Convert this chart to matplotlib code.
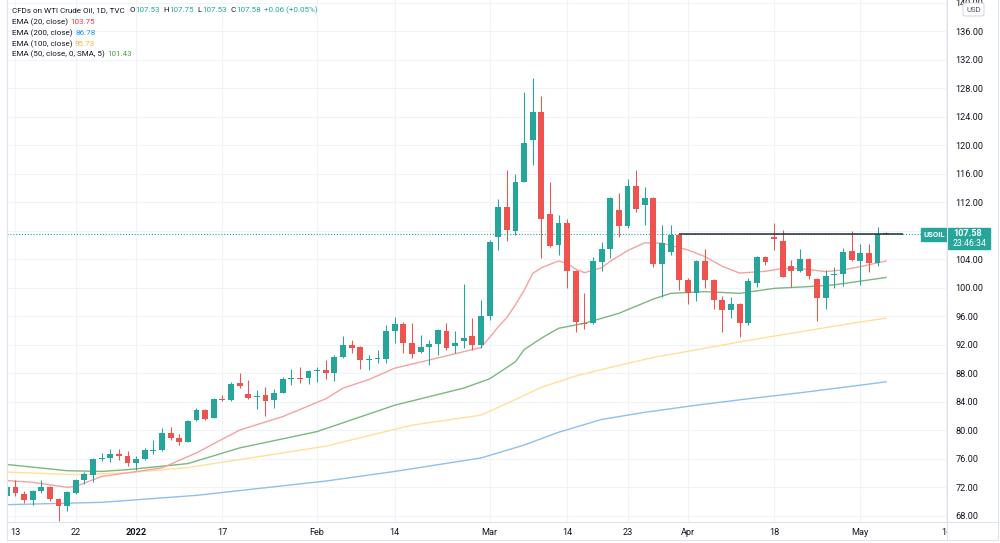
import numpy as np
import pandas as pd
import matplotlib
matplotlib.use("Agg")
from matplotlib import pyplot as plt
from matplotlib import ticker
from matplotlib.patches import Rectangle, FancyBboxPatch
from matplotlib.lines import Line2D

plt.rcParams['font.family'] = ['Roboto', 'DejaVu Sans']

# trading days on the chart (CFD calendar: no bar on Dec 24 and Good Friday)
days = pd.bdate_range("2021-12-09", "2022-05-20")
days = days.drop(pd.to_datetime(["2021-12-24", "2022-04-15"]))

# daily candles, Dec 10 2021 -> May 5 2022
candle_start = "2021-12-10"
opens = [70.71, 71.97, 71.08, 70.24, 71.40, 71.97, 70.34, 69.31, 71.18, 72.95,
         73.70, 75.94, 76.04, 76.60, 76.40, 75.40, 75.99, 77.10, 77.20, 79.60,
         78.90, 78.40, 81.36, 82.77, 81.74, 84.40, 84.26, 86.56, 85.10, 84.60,
         84.88, 84.22, 85.25, 87.20, 87.36, 87.30, 88.30, 88.40, 87.96, 90.20,
         92.00, 91.65, 89.83, 89.97, 90.00, 93.90, 94.83, 92.26, 90.95, 91.70,
         92.07, 93.94, 91.80, 92.49, 93.28, 91.93, 96.08, 107.10, 111.30, 107.90,
         114.90, 120.76, 124.60, 110.40, 105.94, 109.07, 102.30, 95.06, 95.06, 103.65,
         105.40, 110.86, 108.60, 114.27, 111.56, 112.60, 103.30, 105.00, 107.36, 101.14,
         99.27, 103.70, 101.14, 98.33, 96.93, 97.68, 94.97, 100.70, 104.28, 107.10,
         106.60, 103.06, 102.40, 104.05, 101.28, 98.57, 101.75, 101.98, 105.10, 103.76,
         104.80, 103.50, 107.53]
highs = [72.20, 72.95, 71.40, 71.64, 73.04, 72.20, 70.40, 71.40, 73.10, 74.07,
         76.04, 76.80, 77.35, 77.40, 77.10, 76.30, 77.50, 78.65, 80.30, 80.50,
         79.50, 81.46, 83.14, 82.95, 84.50, 84.96, 86.70, 87.96, 87.10, 85.70,
         86.10, 85.80, 87.50, 88.60, 88.90, 88.40, 88.90, 89.80, 90.50, 93.20,
         92.70, 91.80, 90.60, 91.20, 94.70, 95.90, 95.20, 95.07, 93.40, 92.70,
         94.13, 95.07, 93.90, 100.55, 95.70, 98.30, 106.70, 112.40, 116.55, 116.00,
         127.50, 129.40, 126.90, 114.80, 110.20, 109.70, 102.50, 99.26, 104.30, 106.36,
         112.80, 113.30, 115.30, 116.56, 114.10, 112.70, 108.76, 108.76, 107.50, 101.30,
         103.85, 105.50, 101.20, 98.80, 98.70, 97.80, 101.30, 104.47, 104.40, 109.10,
         108.10, 103.90, 105.40, 104.10, 101.40, 102.55, 102.90, 105.60, 107.90, 106.20,
         106.20, 108.50, 107.75]
lows = [70.50, 70.71, 69.70, 69.50, 71.18, 70.00, 67.20, 68.70, 71.00, 72.40,
        72.68, 75.60, 75.50, 75.80, 75.00, 74.40, 75.80, 76.65, 77.00, 78.56,
        77.90, 78.30, 81.27, 81.46, 81.64, 84.03, 84.10, 85.86, 84.30, 82.90,
        82.00, 83.15, 85.16, 86.40, 86.60, 86.50, 86.75, 87.20, 86.90, 90.16,
        90.86, 88.60, 88.50, 89.36, 89.36, 92.20, 90.77, 90.07, 90.86, 89.20,
        90.50, 91.30, 90.77, 91.55, 91.30, 91.60, 95.50, 105.30, 106.50, 107.40,
        114.90, 117.25, 104.10, 105.70, 104.60, 99.96, 93.75, 94.20, 94.96, 102.40,
        104.20, 107.10, 108.40, 110.60, 108.76, 102.90, 98.70, 104.60, 99.64, 97.77,
        98.15, 99.96, 97.07, 93.80, 95.70, 93.10, 94.80, 100.14, 103.20, 105.30,
        101.46, 100.05, 102.26, 101.18, 95.30, 97.07, 99.90, 100.20, 103.75, 100.35,
        102.20, 103.00, 107.53]
closes = [71.97, 71.18, 70.24, 71.50, 72.00, 70.34, 69.31, 71.27, 73.00, 73.80,
          75.94, 76.13, 76.60, 76.40, 75.40, 75.94, 77.16, 77.26, 79.60, 78.84,
          78.40, 81.27, 82.77, 81.60, 84.36, 84.26, 86.50, 86.19, 84.46, 84.83,
          84.08, 85.16, 87.20, 87.36, 87.20, 88.30, 88.50, 88.06, 90.25, 92.00,
          91.56, 89.78, 90.00, 90.07, 93.90, 94.83, 92.17, 90.67, 91.70, 92.07,
          94.04, 91.56, 92.26, 93.00, 91.93, 96.00, 106.36, 111.30, 108.05, 114.90,
          120.30, 124.70, 109.60, 105.80, 109.07, 102.30, 95.15, 94.90, 103.70, 105.40,
          112.64, 108.60, 114.27, 111.10, 112.60, 103.30, 106.30, 107.36, 101.14, 99.27,
          103.70, 101.05, 98.24, 96.90, 97.68, 94.97, 100.94, 104.28, 103.67, 106.80,
          101.55, 102.40, 104.00, 101.70, 98.57, 101.60, 101.98, 105.00, 103.94, 104.80,
          103.50, 107.50, 107.58]

# moving averages
ema20_dates = ["2021-12-09", "2021-12-15", "2021-12-21", "2021-12-22", "2021-12-28", "2021-12-31",
               "2022-01-06", "2022-01-10", "2022-01-12", "2022-01-14", "2022-01-19", "2022-01-26",
               "2022-02-02", "2022-02-04", "2022-02-09", "2022-02-14", "2022-02-18", "2022-02-28",
               "2022-03-01", "2022-03-02", "2022-03-03", "2022-03-04", "2022-03-07", "2022-03-08",
               "2022-03-09", "2022-03-11", "2022-03-14", "2022-03-15", "2022-03-16", "2022-03-18",
               "2022-03-21", "2022-03-23", "2022-03-25", "2022-03-29", "2022-04-01", "2022-04-05",
               "2022-04-07", "2022-04-11", "2022-04-14", "2022-04-19", "2022-04-21", "2022-04-26",
               "2022-04-28", "2022-05-02", "2022-05-05"]
ema20_vals = [73.0, 72.67, 71.97, 72.1, 73.5, 74.0,
              74.7, 75.75, 76.8, 78.1, 80.0, 81.9,
              84.4, 85.9, 87.1, 88.7, 89.85, 91.6,
              93.0, 94.5, 95.8, 97.6, 99.6, 102.0,
              102.8, 103.75, 103.4, 102.6, 102.1, 102.8,
              103.7, 105.2, 106.3, 106.25, 105.3, 104.35,
              103.0, 102.05, 102.3, 102.7, 102.7, 102.25,
              102.5, 102.95, 103.75]

ema50_dates = ["2021-12-09", "2021-12-21", "2021-12-28", "2021-12-31", "2022-01-11", "2022-01-14",
               "2022-01-19", "2022-02-01", "2022-02-14", "2022-02-24", "2022-03-01", "2022-03-04",
               "2022-03-07", "2022-03-09", "2022-03-11", "2022-03-16", "2022-03-22", "2022-03-28",
               "2022-03-30", "2022-04-05", "2022-04-11", "2022-04-18", "2022-04-22", "2022-04-27",
               "2022-05-05"]
ema50_vals = [75.3, 74.3, 74.2, 74.45, 75.3, 76.4,
              77.5, 79.8, 83.5, 85.9, 87.2, 89.6,
              91.3, 92.9, 94.3, 95.0, 96.4, 98.4,
              99.2, 99.45, 99.2, 99.9, 100.15, 100.4,
              101.43]

ema100_dates = ["2021-12-09", "2021-12-22", "2021-12-31", "2022-01-11", "2022-01-19", "2022-02-02",
                "2022-02-16", "2022-02-28", "2022-03-04", "2022-03-09", "2022-03-15", "2022-03-21",
                "2022-03-28", "2022-04-05", "2022-04-12", "2022-04-21", "2022-04-28", "2022-05-05"]
ema100_vals = [74.15, 73.75, 74.0, 74.75, 75.85, 77.75,
               80.7, 82.1, 84.3, 86.0, 87.6, 88.8,
               90.2, 91.5, 92.6, 93.8, 94.8, 95.73]

ema200_dates = ["2021-12-09", "2021-12-28", "2022-01-12", "2022-02-02", "2022-02-14", "2022-02-28",
                "2022-03-07", "2022-03-11", "2022-03-18", "2022-03-25", "2022-04-04", "2022-04-12",
                "2022-04-21", "2022-04-28", "2022-05-05"]
ema200_vals = [69.5, 69.86, 70.84, 72.85, 74.2, 76.09,
               77.9, 79.7, 81.5, 82.5, 83.5, 84.4,
               85.24, 86.0, 86.78]

# horizontal level drawn on the chart
level_value = 107.55
level_from, level_to = "2022-03-31", "2022-05-09"
last_price = 107.58

tick_dates = ["2021-12-13", "2021-12-22", "2022-01-03", "2022-01-17", "2022-02-01", "2022-02-14",
              "2022-03-01", "2022-03-14", "2022-03-23", "2022-04-01", "2022-04-18", "2022-05-02",
              "2022-05-16"]
tick_labels = ["13", "22", "2022", "17", "Feb", "14", "Mar", "14", "23", "Apr", "18", "May", "16"]

UP, DOWN = "#26a69a", "#ef5350"
DARK = "#131722"
W, H = 1000, 543


def loc(d):
    return days.get_loc(pd.Timestamp(d))


fig = plt.figure(figsize=(W / 100, H / 100), dpi=100)
ax = fig.add_axes([6.5 / W, 21 / H, 940.5 / W, 522 / H])

# moving averages
for dts, vals, col in [(ema200_dates, ema200_vals, "#90bfee"),
                       (ema100_dates, ema100_vals, "#ffe09a"),
                       (ema50_dates, ema50_vals, "#7bb87e"),
                       (ema20_dates, ema20_vals, "#f5a3a1")]:
    ax.plot([loc(d) for d in dts], vals, color=col, lw=1.0, zorder=2)

# candles
o, h, l, c = map(np.array, (opens, highs, lows, closes))
pos = np.arange(len(o)) + loc(candle_start)
cols = np.where(c >= o, UP, DOWN)
ax.vlines(pos, l, h, colors=cols, lw=0.75, zorder=3)
ax.bar(pos, np.maximum(np.abs(c - o), 0.12), bottom=np.minimum(o, c), width=0.68,
       color=cols, linewidth=0, zorder=4)

ax.axhline(last_price, color=UP, lw=0.8, ls=(0, (1, 1.6)), zorder=1)
ax.hlines(level_value, loc(level_from), loc(level_to), color="#2a2e39", lw=1.1, zorder=5)

ax.set_xlim(0.96, 110.06)
ax.set_ylim(67.1, 140.39)
ax.set_yticks(np.arange(68, 141, 4))
# the 108 label sits under the last-price marker
ax.yaxis.set_major_formatter(ticker.FuncFormatter(lambda v, p: "" if v == 108 else "%.2f" % v))
ax.yaxis.tick_right()
ax.set_xticks([loc(d) for d in tick_dates], tick_labels)
ax.tick_params(axis="y", length=0, pad=6, labelsize=6.6, labelcolor=DARK)
ax.tick_params(axis="x", length=0, pad=4.5, labelsize=6.6, labelcolor=DARK)
ax.grid(True, color="#f0f3fa", lw=0.8)
ax.set_axisbelow(True)
for s in ax.spines.values():
    s.set_visible(False)

clip = Rectangle((0, 0), 947 / W, 1, transform=fig.transFigure, visible=False)
fig.add_artist(clip)
for lab in ax.get_xticklabels():
    lab.set_clip_path(clip)
    if lab.get_text() == "2022":
        lab.set_fontweight("bold")


def px(x, y):
    return x / W, 1 - y / H


# frame lines
for xs, ys in [([6.5, 6.5], [0, 540]), ([6.5, 998], [540, 540]), ([998, 998], [0, 540]),
               ([6.5, 998], [522, 522]), ([947, 947], [0, 540])]:
    fig.add_artist(Line2D([x / W for x in xs], [1 - y / H for y in ys],
                          color="#e0e3eb", lw=0.8, transform=fig.transFigure))

# price labels on the scale
fig.add_artist(Rectangle(px(921, 240.5), 26 / W, 12.5 / H, color=UP, transform=fig.transFigure))
fig.text(*px(934, 234.5), "USOIL", color="white", fontsize=5.6, fontweight="bold",
         ha="center", va="center")
fig.add_artist(Rectangle(px(948, 248.5), 42 / W, 20.5 / H, color=UP, transform=fig.transFigure))
fig.text(*px(953, 233.5), "107.58", color="white", fontsize=6.6, fontweight="bold",
         ha="left", va="center")
fig.text(*px(953, 243.5), "23:46:34", color="white", fontsize=6.3, ha="left", va="center")

fig.add_artist(FancyBboxPatch(px(963, 16), 21 / W, 13 / H, boxstyle="round,pad=0,rounding_size=0.003",
                              fc="white", ec="#d1d4dc", lw=0.7, transform=fig.transFigure, zorder=5))
fig.text(*px(973.5, 9.5), "USD", color="#50535e", fontsize=5.6, ha="center", va="center", zorder=6)

# legend header
rend = fig.canvas.get_renderer()


def run(x, y, parts, size=5.8):
    for s, col, gap in parts:
        t = fig.text(*px(x, y), s, color=col, fontsize=size, ha="left", va="center")
        x += t.get_window_extent(rend).width + gap


run(11.5, 10.5, [("CFDs on WTI Crude Oil, 1D, TVC", DARK, 5), ("O", DARK, 0), ("107.53", UP, 4),
                 ("H", DARK, 0), ("107.75", UP, 4), ("L", DARK, 0), ("107.53", UP, 4),
                 ("C", DARK, 0), ("107.58", UP, 3), ("+0.06 (+0.05%)", UP, 0)])
run(11.5, 22, [("EMA (20, close)", DARK, 3), ("103.75", "#f23645", 0)])
run(11.5, 33, [("EMA (200, close)", DARK, 3), ("86.78", "#2196f3", 0)])
run(11.5, 44, [("EMA (100, close)", DARK, 3), ("95.73", "#ffb23e", 0)])
run(11.5, 54.5, [("EMA (50, close, 0, SMA, 5)", DARK, 3), ("101.43", "#43a047", 0)])

fig.savefig("out.png", dpi=100, facecolor="white")
